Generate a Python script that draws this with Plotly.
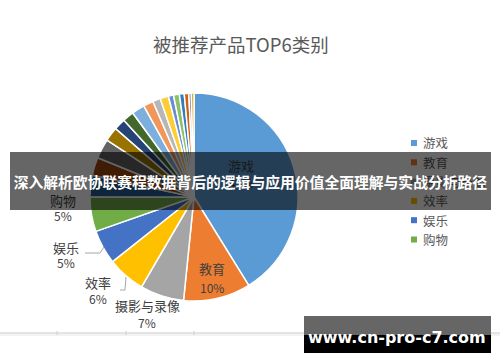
import plotly.graph_objects as go

W, H = 500, 362

# ---------------- data ----------------
categories = ["游戏", "教育", "摄影与录像", "效率", "娱乐", "购物",
              "社交", "工具", "生活", "音乐", "健康健美", "旅游", "新闻", "图书",
              "财务", "参考", "天气", "导航", "医疗", "体育", "商务", "美食佳饮"]
values = [41.1, 10.4, 6.8, 5.9, 5.3, 5.4,
          3.3, 2.8, 3.05, 2.2, 1.8, 1.75, 2.0, 1.55,
          1.2, 1.3, 0.8, 0.9, 0.75, 0.7, 0.4, 0.4]
legend_items = ["游戏", "教育", "摄影与录像", "效率", "娱乐", "购物"]
title_text = "被推荐产品TOP6类别"
banner_text = "深入解析欧协联赛程数据背后的逻辑与应用价值全面理解与实战分析路径"
watermark_text = "www.cn-pro-c7.com"

# ---------------- styles ----------------
colors = ["#5B9BD5", "#ED7D31", "#A5A5A5", "#FFC000", "#4472C4", "#70AD47",
          "#255E91", "#9E480E", "#636363", "#997300", "#264478", "#43682B",
          "#7CAFDD", "#F1975A", "#B7B7B7", "#FFCD33", "#698ED0", "#8CC168",
          "#327DC2", "#D26012", "#848484", "#CC9A00"]
CJK = "Noto Sans CJK SC"

# pie geometry in pixels
CX, CY, R = 194, 197, 104


def px(x):
    return x / W


def py(y):
    return 1 - y / H


fig = go.Figure()
fig.add_trace(go.Pie(
    labels=categories, values=values, sort=False, direction="clockwise",
    rotation=0, textinfo="none", showlegend=False,
    marker=dict(colors=colors, line=dict(color="white", width=1.5)),
    domain=dict(x=[px(CX - R), px(CX + R)], y=[py(CY + R), py(CY - R)]),
))

total = sum(values)
pct = {c: f"{round(v / total * 100)}%" for c, v in zip(categories, values)}

# data-label placement (pixel positions of name / percent)
label_pos = {"游戏": (241, 165, 182), "教育": (212, 268, 287),
             "摄影与录像": (147, 305, 322), "效率": (98, 282, 298),
             "娱乐": (66, 247, 262), "购物": (63, 200, 215)}

ann = []
shapes = []

# title
ann.append(dict(x=px(241), y=py(44), xref="paper", yref="paper", showarrow=False,
                text=title_text, font=dict(family=CJK, size=18.5, color="#595959"),
                xanchor="center", yanchor="middle"))

for c in legend_items:
    x, yn, yp = label_pos[c]
    ann.append(dict(x=px(x), y=py(yn), xref="paper", yref="paper", showarrow=False,
                    text=c, font=dict(family=CJK, size=13, color="#404040"),
                    xanchor="center", yanchor="middle"))
    ann.append(dict(x=px(x), y=py(yp), xref="paper", yref="paper", showarrow=False,
                    text=pct[c], font=dict(family=CJK, size=12, color="#404040"),
                    xanchor="center", yanchor="middle"))

# leader lines
lead_col = "#A6A6A6"
for pts in ([(85, 253), (100, 253), (104, 247)], [(126, 277), (125, 290), (120, 290)]):
    path = "M " + " L ".join(f"{px(a)},{py(b)}" for a, b in pts)
    shapes.append(dict(type="path", path=path, xref="paper", yref="paper",
                       line=dict(color=lead_col, width=1)))

# legend (manual, first six categories)
for i, c in enumerate(legend_items):
    yy = 143 + i * 19.3
    col = colors[categories.index(c)]
    shapes.append(dict(type="rect", xref="paper", yref="paper",
                       x0=px(411), x1=px(417), y0=py(yy + 3), y1=py(yy - 3),
                       fillcolor=col, line=dict(width=0)))
    ann.append(dict(x=px(421), y=py(yy), xref="paper", yref="paper", showarrow=False,
                    text=c, font=dict(family=CJK, size=12.5, color="#595959"),
                    xanchor="left", yanchor="middle"))

# spreadsheet border line at bottom
shapes.append(dict(type="line", xref="paper", yref="paper", x0=0, x1=1,
                   y0=py(333), y1=py(333), line=dict(color="#C8C8C8", width=1)))
shapes.append(dict(type="line", xref="paper", yref="paper", x0=0, x1=1,
                   y0=py(335), y1=py(335), line=dict(color="#E6E6E6", width=1)))
for tx in (57, 126, 194):
    shapes.append(dict(type="line", xref="paper", yref="paper", x0=px(tx), x1=px(tx),
                       y0=py(335), y1=py(331), line=dict(color="#D0D0D0", width=1)))

# banner overlay (annotation so it sits over pie labels and legend text)
ann.append(dict(x=px(250.5), y=py(181), xref="paper", yref="paper", showarrow=False,
                text=banner_text, width=481, height=58, borderpad=0, borderwidth=0,
                bgcolor="rgba(0,0,0,0.6)",
                font=dict(family=CJK, size=14.8, color="white", weight="bold"),
                xanchor="center", yanchor="middle"))

# watermark
shapes.append(dict(type="rect", xref="paper", yref="paper", x0=px(304), x1=px(491),
                   y0=py(335), y1=py(316), fillcolor="#666666", line=dict(width=0),
                   layer="above"))
shapes.append(dict(type="rect", xref="paper", yref="paper", x0=px(304), x1=px(491),
                   y0=py(353), y1=py(335), fillcolor="#000000", line=dict(width=0),
                   layer="above"))
ann.append(dict(x=px(397), y=py(337), xref="paper", yref="paper", showarrow=False,
                text=watermark_text,
                font=dict(family="DejaVu Sans", size=16, color="white", weight="bold"),
                xanchor="center", yanchor="middle"))

fig.update_layout(width=W, height=H, margin=dict(l=0, r=0, t=0, b=0),
                  paper_bgcolor="white", plot_bgcolor="white",
                  showlegend=False, annotations=ann, shapes=shapes)

fig.write_html("out.html")
